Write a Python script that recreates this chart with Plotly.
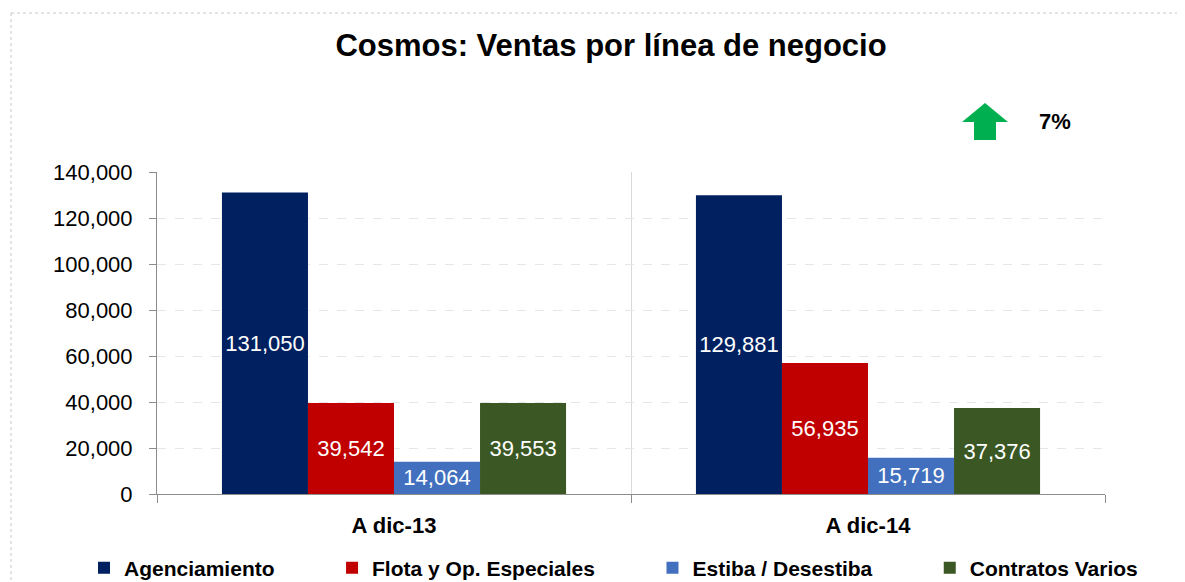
import plotly.graph_objects as go

categories = ["A dic-13", "A dic-14"]
series_names = ["Agenciamiento", "Flota y Op. Especiales", "Estiba / Desestiba", "Contratos Varios"]
agenciamiento = [131050, 129881]
flota = [39542, 56935]
estiba = [14064, 15719]
contratos = [39553, 37376]
growth_label = "7%"
title_text = "Cosmos: Ventas por línea de negocio"

colors = ["#002060", "#C00000", "#4270BE", "#3A5724"]
values = [agenciamiento, flota, estiba, contratos]

OFF = 8  # page body margin
W, H = 1185 - OFF, 582 - OFF
L, T = 157 - OFF, 172 - OFF
PR, PB = 1105 - OFF, 494 - OFF  # plot right / bottom in figure px
R, B = W - PR, H - PB
pw, ph = PR - L, PB - T

def px(x):
    return (x - OFF - L) / pw

def py(y):
    return (PB - (y - OFF)) / ph

NARROW = "Liberation Sans Narrow, Arial Narrow, Liberation Sans, Arial, sans-serif"
REG = "Liberation Sans, Arial, sans-serif"

NB = "\u00a0"
pads = [9, 9, 9, 0]

fig = go.Figure()
for name, vals, col, pad in zip(series_names, values, colors, pads):
    fig.add_trace(go.Bar(
        x=categories, y=vals, name=name + NB * pad, marker_color=col,
        marker_line_width=0,
        texttemplate="%{y:,}", textposition="inside", insidetextanchor="middle",
        constraintext="none",
        textfont=dict(color="white", size=22, family=REG),
    ))

shapes = [
    dict(type="line", xref="paper", yref="paper", x0=px(11), x1=px(1185), y0=py(13), y1=py(13),
         line=dict(color="#c8c8c8", width=1, dash="dot")),
    dict(type="line", xref="paper", yref="paper", x0=px(11), x1=px(11), y0=py(13), y1=py(582),
         line=dict(color="#c8c8c8", width=1, dash="dot")),
    dict(type="path", xref="paper", yref="paper",
         path=(f"M {px(985)} {py(103)} L {px(1008)} {py(122)} L {px(996)} {py(122)} "
               f"L {px(996)} {py(140)} L {px(974)} {py(140)} L {px(974)} {py(122)} "
               f"L {px(962)} {py(122)} Z"),
         fillcolor="#00B050", line=dict(width=0)),
]

annotations = [
    dict(text=growth_label, xref="paper", yref="paper", x=px(1055), y=py(121),
         showarrow=False, xanchor="center", yanchor="middle",
         font=dict(family=NARROW, size=22, color="black", weight="bold")),
]

fig.update_layout(
    width=W, height=H,
    margin=dict(l=L, r=R, t=T, b=B, autoexpand=False),
    paper_bgcolor="white", plot_bgcolor="white",
    title=dict(text=title_text, xref="container", x=(611 - OFF) / W, xanchor="center",
               y=1 - (45 - OFF) / H, yanchor="middle",
               font=dict(family=NARROW, size=31, color="black", weight="bold")),
    barmode="group", bargap=0.274, bargroupgap=0,
    showlegend=True,
    legend=dict(orientation="h", x=px(84), xanchor="left",
                y=py(568), yanchor="middle",
                font=dict(family=NARROW, size=21, color="black", weight="bold"),
                itemwidth=30, traceorder="normal"),
    shapes=shapes, annotations=annotations,
)
fig.update_yaxes(range=[0, 140000], dtick=20000, tickformat=",",
                 showgrid=True, gridcolor="#e6e6e6", griddash="dash", gridwidth=1,
                 showline=True, linecolor="#8c8c8c", linewidth=1,
                 ticks="outside", ticklen=7, tickcolor="#8c8c8c",
                 tickfont=dict(family=REG, size=22, color="black"),
                 ticklabelstandoff=12,
                 zeroline=False)
fig.update_xaxes(tickson="boundaries", showgrid=True, gridcolor="#d9d9d9", gridwidth=1,
                 showline=True, linecolor="#8c8c8c", linewidth=1,
                 ticks="outside", ticklen=8, tickcolor="#8c8c8c",
                 tickfont=dict(family=REG, size=22, color="black", weight="bold"),
                 ticklabelstandoff=12)

fig.write_html("out.html")
